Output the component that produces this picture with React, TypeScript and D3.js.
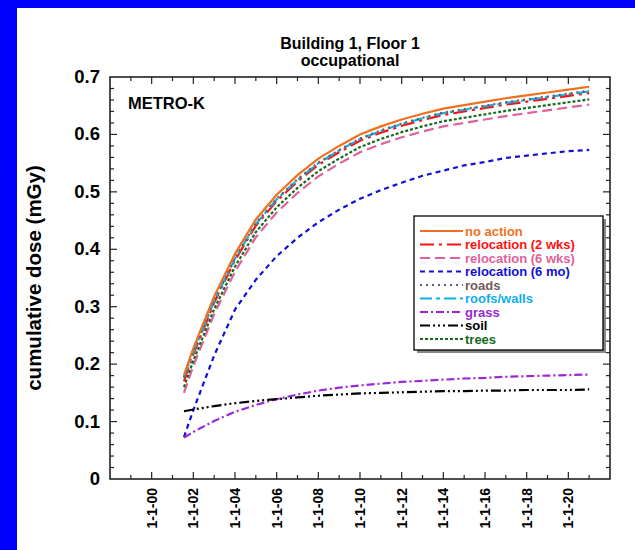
import React from "react";
import * as d3 from "d3";

const years = [2001.55, 2002, 2003, 2004, 2005, 2006, 2007, 2008, 2009, 2010, 2011, 2012, 2013, 2014, 2015, 2016, 2017, 2018, 2019, 2020, 2021];
const noAction = [0.181, 0.228, 0.318, 0.392, 0.452, 0.495, 0.529, 0.558, 0.580, 0.600, 0.614, 0.626, 0.636, 0.645, 0.651, 0.657, 0.663, 0.668, 0.673, 0.678, 0.683];
const reloc2wk = [0.170, 0.217, 0.307, 0.381, 0.441, 0.484, 0.518, 0.547, 0.569, 0.589, 0.603, 0.615, 0.625, 0.634, 0.640, 0.646, 0.652, 0.657, 0.662, 0.667, 0.672];
const reloc6wk = [0.150, 0.197, 0.287, 0.361, 0.421, 0.464, 0.498, 0.527, 0.549, 0.569, 0.583, 0.595, 0.605, 0.614, 0.620, 0.626, 0.632, 0.637, 0.642, 0.647, 0.652];
const reloc6mo = [0.073, 0.120, 0.215, 0.295, 0.347, 0.388, 0.420, 0.447, 0.469, 0.488, 0.503, 0.516, 0.528, 0.537, 0.546, 0.552, 0.559, 0.563, 0.567, 0.571, 0.573];
const roads = [0.177, 0.222, 0.311, 0.385, 0.445, 0.488, 0.522, 0.551, 0.573, 0.593, 0.607, 0.619, 0.629, 0.638, 0.644, 0.650, 0.656, 0.661, 0.666, 0.671, 0.676];
const roofsWalls = [0.176, 0.221, 0.310, 0.384, 0.444, 0.487, 0.521, 0.550, 0.572, 0.592, 0.606, 0.618, 0.628, 0.637, 0.643, 0.649, 0.655, 0.660, 0.665, 0.670, 0.675];
const grass = [0.072, 0.082, 0.101, 0.117, 0.129, 0.139, 0.147, 0.154, 0.159, 0.163, 0.166, 0.169, 0.171, 0.173, 0.175, 0.176, 0.178, 0.179, 0.180, 0.181, 0.182];
const soil = [0.118, 0.121, 0.127, 0.132, 0.136, 0.139, 0.142, 0.145, 0.147, 0.149, 0.150, 0.151, 0.152, 0.153, 0.153, 0.154, 0.154, 0.155, 0.155, 0.155, 0.156];
const trees = [0.160, 0.206, 0.296, 0.370, 0.430, 0.473, 0.507, 0.536, 0.558, 0.578, 0.592, 0.604, 0.614, 0.623, 0.629, 0.635, 0.641, 0.646, 0.651, 0.656, 0.661];

const xTickYears = [2000, 2002, 2004, 2006, 2008, 2010, 2012, 2014, 2016, 2018, 2020];
const xTickLabels = ["1-1-00", "1-1-02", "1-1-04", "1-1-06", "1-1-08", "1-1-10", "1-1-12", "1-1-14", "1-1-16", "1-1-18", "1-1-20"];
const yTickValues = [0, 0.1, 0.2, 0.3, 0.4, 0.5, 0.6, 0.7];
const yTickLabels = ["0", "0.1", "0.2", "0.3", "0.4", "0.5", "0.6", "0.7"];

const seriesNames = ["no action", "relocation (2 wks)", "relocation (6 wks)", "relocation (6 mo)", "roads", "roofs/walls", "grass", "soil", "trees"];
const seriesValues = [noAction, reloc2wk, reloc6wk, reloc6mo, roads, roofsWalls, grass, soil, trees];
const seriesColors = ["#F07020", "#FF1010", "#E0609A", "#1010D8", "#6E5E58", "#10AEEA", "#9A28D8", "#000000", "#146A1E"];
const seriesDash = ["", "14,5,3,5", "10,5", "5,4", "2,4", "12,4,4,4", "8,3,2,3", "10,3,2,3,2,3,2,3", "3,2"];
const drawOrder = [2, 8, 3, 1, 5, 4, 0, 6, 7];

const W = 635, H = 550;
const L = 110, R = 610, T = 77, B = 479;

export default function App() {
  const x = d3.scaleLinear().domain([1998, 2022]).range([L, R]);
  const y = d3.scaleLinear().domain([0, 0.7]).range([B, T]);
  const line = d3.line<[number, number]>().x(d => x(d[0])).y(d => y(d[1]));

  const minorX = d3.range(1999, 2022);
  const minorY = d3.range(1, 35).map(i => i * 0.02);
  const font = "Arial, 'Liberation Sans', Helvetica, sans-serif";
  const axisColor = "#222";

  const legX = 414, legY = 216, legW = 189, legH = 134;
  const rowY = (i: number) => 231 + i * 13.5;

  return (
    <svg width={W} height={H} style={{ position: "absolute", left: 0, top: 0, background: "#fff" }} fontFamily={font}>
      <rect x={0} y={0} width={W} height={H} fill="#fff" />
      <rect x={0} y={0} width={W} height={8} fill="#0000FF" />
      <rect x={0} y={0} width={17} height={H} fill="#0000FF" />

      <text x={350} y={49} textAnchor="middle" fontWeight="bold" fontSize={16}>Building 1, Floor 1</text>
      <text x={350} y={66} textAnchor="middle" fontWeight="bold" fontSize={16}>occupational</text>

      {minorX.map(v => {
        const len = v % 2 === 0 ? 7 : 4;
        return (
          <g key={"xt" + v} stroke={axisColor} strokeWidth={1.2}>
            <line x1={x(v)} x2={x(v)} y1={B} y2={B - len} />
            <line x1={x(v)} x2={x(v)} y1={T} y2={T + len} />
          </g>
        );
      })}
      {minorY.map((v, i) => {
        const len = (i + 1) % 5 === 0 ? 7 : 4;
        return (
          <g key={"yt" + i} stroke={axisColor} strokeWidth={1.2}>
            <line x1={L} x2={L + len} y1={y(v)} y2={y(v)} />
            <line x1={R} x2={R - len} y1={y(v)} y2={y(v)} />
          </g>
        );
      })}
      <rect x={L} y={T} width={R - L} height={B - T} fill="none" stroke={axisColor} strokeWidth={1.6} />

      {yTickValues.map((v, i) => (
        <text key={"yl" + i} x={L - 10} y={y(v) + 6} textAnchor="end" fontWeight="bold" fontSize={18.5}>{yTickLabels[i]}</text>
      ))}
      {xTickYears.map((v, i) => (
        <text key={"xl" + i} transform={`translate(${x(v) + 5},${B + 9}) rotate(-90)`} textAnchor="end" fontWeight="bold" fontSize={14}>{xTickLabels[i]}</text>
      ))}
      <text transform={`translate(41,${(T + B) / 2}) rotate(-90)`} textAnchor="middle" fontWeight="bold" fontSize={20.5}>cumulative dose (mGy)</text>

      <text x={128} y={109} fontWeight="bold" fontSize={16.5}>METRO-K</text>

      {drawOrder.map(si => (
        <path key={"s" + si}
          d={line(years.map((yr, j) => [yr, seriesValues[si][j]] as [number, number])) || ""}
          fill="none" stroke={seriesColors[si]} strokeWidth={2.2}
          strokeDasharray={seriesDash[si] || undefined} />
      ))}

      <rect x={legX + 3} y={legY + 3} width={legW} height={legH} fill="#888" />
      <rect x={legX} y={legY} width={legW} height={legH} fill="#fff" stroke="#000" strokeWidth={1.3} />
      {seriesNames.map((n, i) => (
        <g key={"lg" + i}>
          <line x1={420} x2={463} y1={rowY(i)} y2={rowY(i)} stroke={seriesColors[i]} strokeWidth={2.2} strokeDasharray={seriesDash[i] || undefined} />
          <text x={465} y={rowY(i) + 4.5} fontWeight="bold" fontSize={13} fill={seriesColors[i]}>{n}</text>
        </g>
      ))}
    </svg>
  );
}
